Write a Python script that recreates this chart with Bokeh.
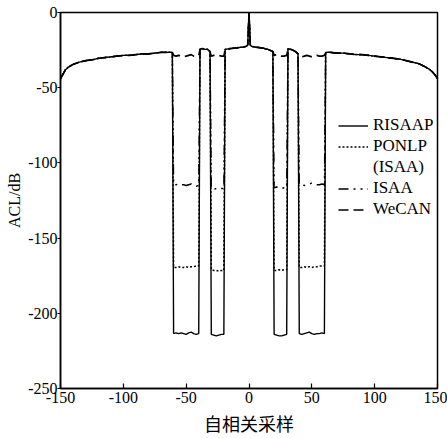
from bokeh.plotting import figure
from bokeh.models import Legend, LegendItem, FixedTicker, Range1d
from bokeh.embed import file_html
from bokeh.resources import INLINE

# ---- data ----
# common sidelobe envelope outside the notches (all four methods coincide)
x_out_l = [-150, -148, -146, -144, -140, -135, -130, -125, -120, -115, -110,
           -105, -100, -95, -90, -85, -80, -75, -70, -65, -61]
acl_out_l = [-44, -41, -38, -36.5, -34.5, -33, -32, -31.5, -30.5, -30, -29.5,
             -29, -28.5, -28.5, -28, -27.5, -27.5, -27, -26.5, -26.5, -26.5]
x_gap_b = [-39, -37, -35, -33, -31]
acl_gap_b = [-24.5, -24, -24.5, -24.5, -26]
x_mid = [-19, -15, -10, -5, -2, -1, 0, 1, 2, 5, 10, 15, 19]
acl_mid = [-24.5, -24, -23.5, -23, -22.5, -21.5, 0, -21.5, -22.5, -23, -23.5, -24.5, -26]
x_gap_f = [31, 33, 35, 37, 39]
acl_gap_f = [-24, -24.5, -25, -26, -27.5]
x_out_r = [61, 65, 70, 75, 80, 85, 90, 95, 100, 105, 110, 115, 120, 125, 130,
           135, 140, 144, 146, 148, 150]
acl_out_r = [-26.5, -26.5, -27, -27, -27.5, -28, -28, -28.5, -29, -29.5, -30,
             -30.5, -31, -32, -33, -34, -36, -38, -39.5, -41.5, -44]

# notch sample positions
x_n1 = [-60, -58, -56, -54, -52, -50, -48, -46, -44, -42, -40]
x_n2 = [-30, -28, -26, -24, -22, -20]
x_n3 = [20, 22, 24, 26, 28, 30]
x_n4 = [40, 42, 44, 46, 48, 50, 52, 54, 56, 58, 60]

# notch levels per method
risaap_n1 = [-213.5, -213, -213.5, -213, -213.5, -214, -213, -212.5, -213.5, -214, -213.5]
risaap_n2 = [-214, -214.5, -215, -214.5, -214, -214]
risaap_n3 = [-214, -214.5, -215, -215, -214.5, -214]
risaap_n4 = [-213.5, -214, -213.5, -213, -212.5, -213.5, -214, -213.5, -213.5, -213, -213.5]

ponlp_n1 = [-169.5, -169.5, -169, -169.5, -169.5, -169, -169.5, -169, -169, -168.5, -168.5]
ponlp_n2 = [-171, -171.5, -171.5, -172, -171.5, -171.5]
ponlp_n3 = [-171.5, -171.5, -171, -171.5, -171, -171]
ponlp_n4 = [-169.5, -169.5, -169, -169.5, -169, -169.5, -169, -169, -168.5, -168.5, -168.5]

isaa_n1 = [-114.5, -114.5, -114, -114.5, -114.5, -115, -114.5, -114, -115, -115.5, -115]
isaa_n2 = [-117, -117.5, -117, -117.5, -117, -117]
isaa_n3 = [-116.5, -116, -116.5, -117, -116.5, -116.5]
isaa_n4 = [-114.5, -114.5, -115, -114.5, -114, -113.5, -114, -114.5, -114.5, -114, -114.5]

wecan_n1 = [-28.5, -29, -28.5, -29, -29.5, -29, -28.5, -28, -29, -29, -28.5]
wecan_n2 = [-29, -28.5, -28, -28.5, -29, -29]
wecan_n3 = [-28.5, -28, -28.5, -29, -29, -28.5]
wecan_n4 = [-29, -29.5, -29, -28.5, -29, -29.5, -29, -28.5, -29, -29, -28.5]

series_names = ["RISAAP", "PONLP", "ISAA", "WeCAN"]
ponlp_sub_label = "(ISAA)"
x_ticks = [-150, -100, -50, 0, 50, 100, 150]
x_tick_labels = ["-150", "-100", "-50", "0", "50", "100", "150"]
y_ticks = [0, -50, -100, -150, -200, -250]
y_tick_labels = ["0", "-50", "-100", "-150", "-200", "-250"]

lag = x_out_l + x_n1 + x_gap_b + x_n2 + x_mid + x_n3 + x_gap_f + x_n4 + x_out_r


def build(n1, n2, n3, n4):
    return (acl_out_l + n1 + acl_gap_b + n2 + acl_mid + n3 + acl_gap_f + n4 + acl_out_r)


series = [
    build(risaap_n1, risaap_n2, risaap_n3, risaap_n4),
    build(ponlp_n1, ponlp_n2, ponlp_n3, ponlp_n4),
    build(isaa_n1, isaa_n2, isaa_n3, isaa_n4),
    build(wecan_n1, wecan_n2, wecan_n3, wecan_n4),
]
dashes = ["solid", "2 2", "10 5 2 5 2 5", "10 5"]
widths = [1.4, 1.5, 1.4, 1.6]

p = figure(width=447, height=438, output_backend="svg", toolbar_location=None,
           x_range=Range1d(-150, 150), y_range=Range1d(-250, 0),
           min_border_left=60, min_border_right=10, min_border_top=12, min_border_bottom=48)
p.background_fill_color = "white"
p.border_fill_color = "white"
p.outline_line_color = "black"
p.outline_line_width = 1.5
p.xgrid.visible = False
p.ygrid.visible = False

renderers = []
for ys, dash, w in zip(series, dashes, widths):
    renderers.append(p.line(lag, ys, line_color="black", line_width=w, line_dash=dash))
blank = p.line([], [], line_alpha=0)

items = [
    LegendItem(label=series_names[0], renderers=[renderers[0]]),
    LegendItem(label=series_names[1], renderers=[renderers[1]]),
    LegendItem(label=ponlp_sub_label, renderers=[blank]),
    LegendItem(label=series_names[2], renderers=[renderers[2]]),
    LegendItem(label=series_names[3], renderers=[renderers[3]]),
]

font = "Liberation Serif"
p.xaxis.ticker = FixedTicker(ticks=x_ticks)
p.yaxis.ticker = FixedTicker(ticks=y_ticks)
p.xaxis.major_label_overrides = dict(zip(x_ticks, x_tick_labels))
p.yaxis.major_label_overrides = dict(zip(y_ticks, y_tick_labels))
for ax in (p.xaxis[0], p.yaxis[0]):
    ax.axis_line_color = "black"
    ax.axis_line_width = 1.5
    ax.major_tick_line_color = "black"
    ax.major_tick_line_width = 1.2
    ax.minor_tick_line_color = None
    ax.major_label_text_font = font
    ax.major_label_text_font_size = "16px"
    ax.major_label_text_color = "black"
    ax.axis_label_text_font_style = "normal"
    ax.axis_label_text_color = "black"

p.xaxis.major_tick_in = 5
p.xaxis.major_tick_out = 0
p.xaxis.major_label_standoff = 3
p.xaxis.axis_label = "自相关采样"
p.xaxis.axis_label_text_font = "Noto Sans CJK SC"
p.xaxis.axis_label_text_font_size = "18px"
p.xaxis.axis_label_standoff = 4

p.yaxis.major_tick_in = 0
p.yaxis.major_tick_out = 3
p.yaxis.major_label_standoff = 0
p.yaxis.axis_label = "ACL/dB"
p.yaxis.axis_label_text_font = font
p.yaxis.axis_label_text_font_size = "16px"
p.yaxis.axis_label_standoff = 2

legend = Legend(items=items, location=(278, 169))
legend.label_text_font = font
legend.label_text_font_size = "17px"
legend.label_text_color = "black"
legend.glyph_width = 30
legend.glyph_height = 17
legend.label_height = 17
legend.label_standoff = 5
legend.spacing = 1
legend.padding = 0
legend.margin = 0
legend.background_fill_alpha = 0
legend.border_line_alpha = 0
p.add_layout(legend, "center")

open("out.html", "w").write(file_html(p, INLINE))
